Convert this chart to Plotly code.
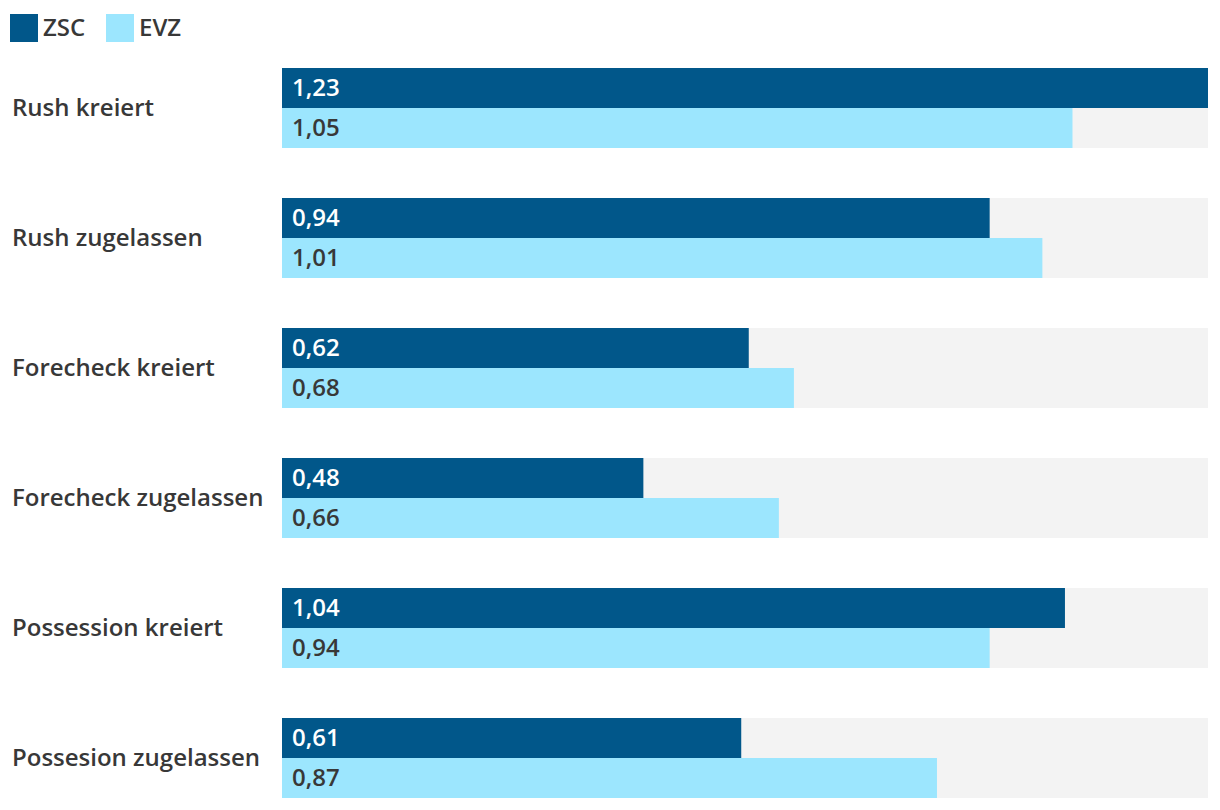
import plotly.graph_objects as go

categories = ["Rush kreiert", "Rush zugelassen", "Forecheck kreiert",
              "Forecheck zugelassen", "Possession kreiert", "Possesion zugelassen"]
series_names = ["ZSC", "EVZ"]
zsc_values = [1.23, 0.94, 0.62, 0.48, 1.04, 0.61]
evz_values = [1.05, 1.01, 0.68, 0.66, 0.94, 0.87]

OFF = 8  # page body margin
W, H = 1212, 802
L, R, T, B = 282 - OFF, 12 - OFF + 8, 60 - OFF, 2
PW, PH = W - L - R, H - T - B
FONT = "Open Sans"
FS, FW = 24, 600
DARK, LIGHT, GREY, TXT = "#01578A", "#9CE6FE", "#F3F3F3", "#383838"
PAD = 3  # annotation inner padding
YS = 2

xmax = max(max(zsc_values), max(evz_values))
idx = list(range(len(categories)))
bw = 40 / 130.0

def px_x(p):
    return (p - OFF - L) / PW

def px_y(p):
    return 1 - (p - OFF - T) / PH

fig = go.Figure()
fig.add_trace(go.Bar(y=idx, x=[xmax] * len(idx), orientation="h", width=2 * bw, offset=-bw,
                     marker=dict(color=GREY, line=dict(width=0)), showlegend=False, hoverinfo="skip"))
fig.add_trace(go.Bar(y=idx, x=zsc_values, orientation="h", width=bw, offset=-bw, name=series_names[0],
                     marker=dict(color=DARK, line=dict(width=0)), showlegend=False))
fig.add_trace(go.Bar(y=idx, x=evz_values, orientation="h", width=bw, offset=0, name=series_names[1],
                     marker=dict(color=LIGHT, line=dict(width=0)), showlegend=False))

annotations = []
for i, cat in enumerate(categories):
    annotations.append(dict(x=px_x(13 - PAD), xref="paper", y=i, yref="y", yshift=YS, text=cat,
                            showarrow=False, xanchor="left", yanchor="middle",
                            font=dict(family=FONT, size=FS, color=TXT, weight=FW)))
    annotations.append(dict(x=0, xref="x", y=i - bw / 2, yref="y", xshift=11 - PAD, yshift=YS,
                            text=f"{zsc_values[i]:.2f}".replace(".", ","), showarrow=False,
                            xanchor="left", yanchor="middle",
                            font=dict(family=FONT, size=FS, color="#FFFFFF", weight=FW)))
    annotations.append(dict(x=0, xref="x", y=i + bw / 2, yref="y", xshift=11 - PAD, yshift=YS,
                            text=f"{evz_values[i]:.2f}".replace(".", ","), showarrow=False,
                            xanchor="left", yanchor="middle",
                            font=dict(family=FONT, size=FS, color=TXT, weight=FW)))

shapes = []
legend_x = [10, 106]
for name, col, lx in zip(series_names, [DARK, LIGHT], legend_x):
    shapes.append(dict(type="rect", xref="paper", yref="paper", x0=px_x(lx), x1=px_x(lx + 28),
                       y0=px_y(42), y1=px_y(14), fillcolor=col, line=dict(width=0)))
    annotations.append(dict(x=px_x(lx + 34 - PAD), xref="paper", y=px_y(28), yref="paper", yshift=YS,
                            text=name, showarrow=False, xanchor="left", yanchor="middle",
                            font=dict(family=FONT, size=FS, color=TXT, weight=FW)))

r_top = (T + OFF - 108) / 130.0
r_bot = (T + OFF + PH - 108) / 130.0
fig.update_layout(
    width=W, height=H, margin=dict(l=L, r=R, t=T, b=B),
    paper_bgcolor="white", plot_bgcolor="white",
    barmode="overlay", showlegend=False,
    xaxis=dict(range=[0, xmax], visible=False, fixedrange=True),
    yaxis=dict(range=[r_bot, r_top], visible=False, fixedrange=True),
    annotations=annotations, shapes=shapes,
    font=dict(family=FONT),
)
fig.write_html("out.html")
